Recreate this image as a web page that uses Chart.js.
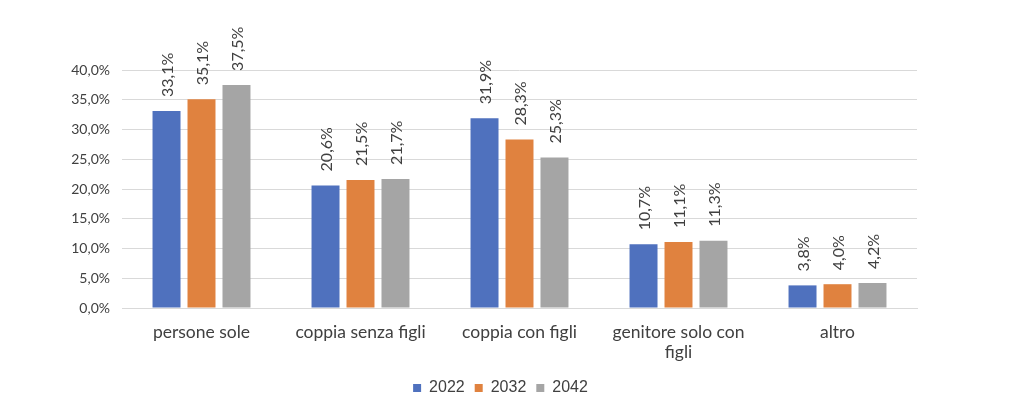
<!DOCTYPE html>
<html>
<head>
<meta charset="utf-8">
<script src="https://cdn.jsdelivr.net/npm/chart.js@4"></script>
<style>
html,body{margin:0;padding:0;background:#fff;}
#wrap{width:1024px;height:416px;position:relative;}
</style>
</head>
<body>
<div id="wrap"><canvas id="c"></canvas></div>
<script>
const categories = ["persone sole", "coppia senza figli", "coppia con figli", ["genitore solo con", "figli"], "altro"];
const seriesNames = ["2022", "2032", "2042"];
const values2022 = [33.1, 20.6, 31.9, 10.7, 3.8];
const values2032 = [35.1, 21.5, 28.3, 11.1, 4.0];
const values2042 = [37.5, 21.7, 25.3, 11.3, 4.2];
const yTicks = [0, 5, 10, 15, 20, 25, 30, 35, 40];

const colors = ["#4f71be", "#e0823f", "#a5a5a5"];
const fmt = v => v.toFixed(1).replace('.', ',') + '%';

const labelPlugin = {
  id: 'rotLabels',
  afterLayout(chart) {
    if (chart.legend) { chart.legend.left += 42; chart.legend.right += 42; }
  },
  afterDatasetsDraw(chart) {
    const ctx = chart.ctx;
    ctx.save();
    ctx.font = '16px Lato';
    ctx.fillStyle = '#404040';
    ctx.textAlign = 'left';
    ctx.textBaseline = 'middle';
    chart.data.datasets.forEach((ds, i) => {
      const meta = chart.getDatasetMeta(i);
      meta.data.forEach((bar, j) => {
        ctx.save();
        ctx.translate(bar.x + 1, bar.y - 14);
        ctx.rotate(-Math.PI / 2);
        ctx.fillText(fmt(ds.data[j]), 0, 0);
        ctx.restore();
      });
    });
    ctx.restore();
  }
};

new Chart(document.getElementById('c'), {
  type: 'bar',
  data: {
    labels: categories,
    datasets: [
      { label: seriesNames[0], data: values2022, backgroundColor: colors[0] },
      { label: seriesNames[1], data: values2032, backgroundColor: colors[1] },
      { label: seriesNames[2], data: values2042, backgroundColor: colors[2] }
    ]
  },
  options: {
    responsive: true,
    maintainAspectRatio: false,
    animation: false,
    layout: { padding: { top: 70, left: 0, right: 107, bottom: 10 } },
    datasets: { bar: { categoryPercentage: 0.66, barPercentage: 0.8 } },
    scales: {
      x: {
        grid: { display: false, drawTicks: false },
        border: { display: true, color: '#d9d9d9', width: 1 },
        ticks: { color: '#404040', font: { family: 'Lato', size: 17.5, lineHeight: 1.15 }, padding: 14, maxRotation: 0, autoSkip: false },
        afterFit(s) { s.height = 62; }
      },
      y: {
        min: 0, max: 40,
        afterBuildTicks(s) { s.ticks = yTicks.map(v => ({ value: v })); },
        grid: { color: '#d9d9d9', lineWidth: 1, drawTicks: false },
        border: { display: false },
        ticks: { color: '#404040', font: { family: 'Lato', size: 14 }, padding: 12, callback: v => fmt(v) },
        afterFit(s) { s.width = 122; }
      }
    },
    plugins: {
      legend: {
        position: 'bottom',
        labels: { color: '#404040', font: { family: 'Liberation Sans', size: 16 }, boxWidth: 8, boxHeight: 8, padding: 10 }
      },
      tooltip: { enabled: false }
    }
  },
  plugins: [labelPlugin]
});
</script>
</body>
</html>
